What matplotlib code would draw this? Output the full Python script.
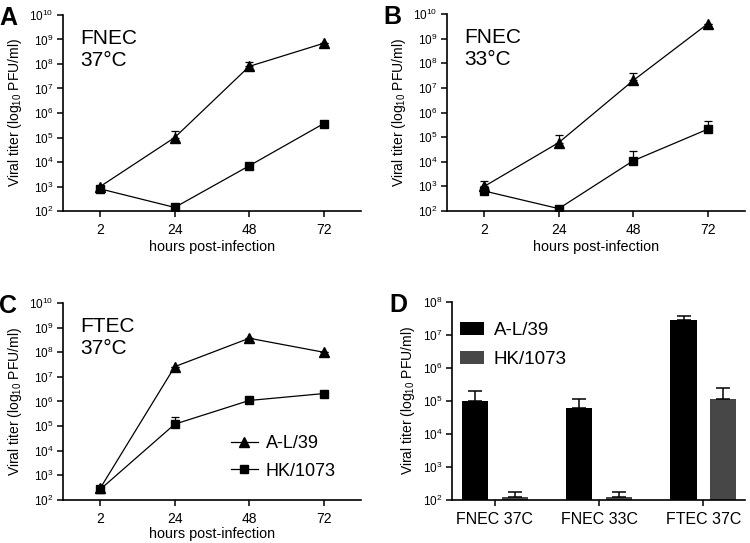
import numpy as np
import matplotlib
matplotlib.use('Agg')
import matplotlib.pyplot as plt
from matplotlib.ticker import LogLocator, NullLocator
from matplotlib.lines import Line2D

plt.rcParams['font.family'] = ['Liberation Sans', 'DejaVu Sans']
plt.rcParams['mathtext.fontset'] = 'custom'
plt.rcParams['mathtext.rm'] = 'Liberation Sans'
plt.rcParams['mathtext.it'] = 'Liberation Sans:italic'
plt.rcParams['mathtext.bf'] = 'Liberation Sans:bold'

# time courses (hours post-infection)
hours = ['2', '24', '48', '72']

fnec37_al = [1.0e3, 1.0e5, 8.0e7, 7.0e8]
fnec37_al_err = [0, 8.0e4, 4.0e7, 0]
fnec37_hk = [8.0e2, 1.4e2, 7.0e3, 3.7e5]
fnec37_hk_err = [0, 0, 0, 0]

fnec33_al = [1.0e3, 6.0e4, 2.0e7, 4.0e9]
fnec33_al_err = [6.0e2, 6.0e4, 2.0e7, 0]
fnec33_hk = [6.5e2, 1.25e2, 1.1e4, 2.1e5]
fnec33_hk_err = [0, 0, 1.6e4, 2.5e5]

ftec37_al = [3.0e2, 2.6e7, 3.7e8, 1.0e8]
ftec37_al_err = [0, 0, 0, 0]
ftec37_hk = [2.7e2, 1.2e5, 1.1e6, 2.1e6]
ftec37_hk_err = [0, 1.1e5, 0, 0]

# panel D bars
groups = ['FNEC 37C', 'FNEC 33C', 'FTEC 37C']
bar_al = [1.0e5, 6.1e4, 2.8e7]
bar_al_err = [1.0e5, 5.4e4, 1.0e7]
bar_hk = [1.26e2, 1.26e2, 1.17e5]
bar_hk_err = [5.4e1, 5.4e1, 1.33e5]

GREY = '#474747'
YLABEL = 'Viral titer (log$_{10}$ PFU/ml)'


def style_axis(ax, ymax_exp, xsize):
    for s in ['top', 'right']:
        ax.spines[s].set_visible(False)
    for s in ['left', 'bottom']:
        ax.spines[s].set_linewidth(1.2)
    ax.set_yscale('log')
    ax.set_ylim(1e2, 10.0 ** ymax_exp)
    ax.yaxis.set_major_locator(LogLocator(base=10, numticks=20))
    ax.yaxis.set_minor_locator(NullLocator())
    ax.tick_params(axis='y', labelsize=8.5, length=4.5, width=1.1, pad=2.5)
    ax.tick_params(axis='x', labelsize=xsize, length=4.5, width=1.1, pad=4)
    ax.set_ylabel(YLABEL, fontsize=10, labelpad=4)


def time_panel(ax, al, al_err, hk, hk_err, label, letter):
    x = np.arange(len(hours))
    z = np.zeros(len(hours))
    # lines + markers, then upper-only error bars
    ax.plot(x, al, color='black', marker='^', ms=7.5, lw=0.9)
    ax.plot(x, hk, color='black', marker='s', ms=6, lw=0.9)
    ax.errorbar(x, al, yerr=[z, al_err], fmt='none', ecolor='black',
                capsize=2.8, elinewidth=0.9, capthick=0.9)
    ax.errorbar(x, hk, yerr=[z, hk_err], fmt='none', ecolor='black',
                capsize=2.8, elinewidth=0.9, capthick=0.9)
    style_axis(ax, 10, 10)
    ax.set_xlim(-0.5, 3.5)
    ax.set_xticks(x)
    ax.set_xticklabels(hours)
    ax.set_xlabel('hours post-infection', fontsize=10.4, labelpad=2)
    ax.text(0.057, 0.93, label, transform=ax.transAxes, fontsize=15,
            va='top', ha='left', linespacing=1.2)
    ax.text(-0.215, 1.045, letter, transform=ax.transAxes, fontsize=18,
            fontweight='bold', va='top', ha='left')


fig = plt.figure(figsize=(7.5, 5.43), dpi=100)

axA = fig.add_axes([0.084, 0.6114, 0.3973, 0.361])
time_panel(axA, fnec37_al, fnec37_al_err, fnec37_hk, fnec37_hk_err, 'FNEC\n37°C', 'A')

axB = fig.add_axes([0.596, 0.6114, 0.3973, 0.3628])
time_panel(axB, fnec33_al, fnec33_al_err, fnec33_hk, fnec33_hk_err, 'FNEC\n33°C', 'B')

axC = fig.add_axes([0.084, 0.0792, 0.3973, 0.3628])
time_panel(axC, ftec37_al, ftec37_al_err, ftec37_hk, ftec37_hk_err, 'FTEC\n37°C', 'C')
axC.xaxis.labelpad = 1
handles = [Line2D([], [], color='black', marker='^', ms=7.5, lw=0.9),
           Line2D([], [], color='black', marker='s', ms=6, lw=0.9)]
axC.legend(handles, ['A-L/39', 'HK/1073'], loc='lower right',
           bbox_to_anchor=(0.97, 0.02), frameon=False,
           fontsize=13, handlelength=1.5, handletextpad=0.45, labelspacing=0.6)

# panel D - bar chart
axD = fig.add_axes([0.6027, 0.0792, 0.3907, 0.3646])
gx = np.arange(len(groups))
off = 0.19
w = 0.25
axD.bar(gx - off, bar_al, w, color='black', label='A-L/39', log=True)
axD.bar(gx + off, bar_hk, w, color=GREY, label='HK/1073', log=True)
zz = np.zeros(len(groups))
axD.errorbar(gx - off, bar_al, yerr=[zz, bar_al_err], fmt='none', ecolor='black',
             capsize=4.7, elinewidth=1.1, capthick=1.1)
axD.errorbar(gx + off, bar_hk, yerr=[zz, bar_hk_err], fmt='none', ecolor='black',
             capsize=4.7, elinewidth=1.1, capthick=1.1)
style_axis(axD, 8, 11.5)
axD.set_xlim(-0.41, 2.40)
axD.set_xticks(gx)
axD.set_xticklabels(groups)
axD.legend(loc='upper left', bbox_to_anchor=(-0.03, 0.985), frameon=False,
           fontsize=13.5, handlelength=1.3, handleheight=0.65,
           handletextpad=0.5, labelspacing=0.65)
axD.text(-0.215, 1.045, 'D', transform=axD.transAxes, fontsize=18,
         fontweight='bold', va='top', ha='left')

fig.savefig('out.png', dpi=100)
